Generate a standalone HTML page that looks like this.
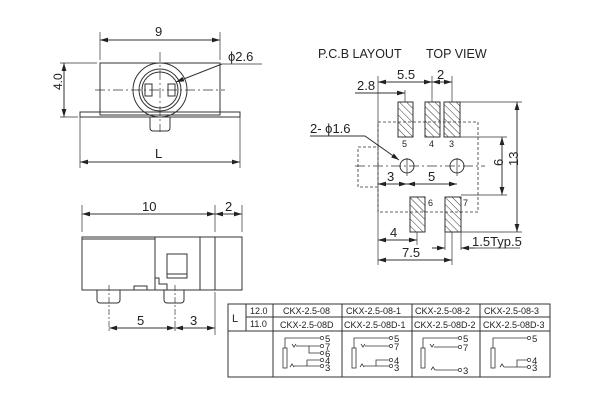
<!DOCTYPE html>
<html><head><style>body{margin:0;background:#fff}svg{display:block}text{font-family:"Liberation Sans",sans-serif;fill:#222}</style></head><body>
<svg width="600" height="400" viewBox="0 0 600 400" xmlns="http://www.w3.org/2000/svg">
<defs>
<marker id="a" viewBox="0 0 10 6" refX="10" refY="3" markerWidth="8" markerHeight="5" orient="auto-start-reverse"><path d="M0 0L10 3L0 6z" fill="#222"/></marker>
<pattern id="h" width="5" height="5" patternUnits="userSpaceOnUse" patternTransform="rotate(-45)"><line x1="0" y1="0" x2="0" y2="5" stroke="#333" stroke-width="1"/></pattern>
</defs>
<g stroke="#333" fill="none" stroke-width="1">
<rect x="100" y="63" width="120" height="52"/>
<rect x="80" y="112" width="160" height="5"/>
<path d="M150 117v11a3 3 0 0 0 3 3h14a3 3 0 0 0 3-3v-11"/>
<circle cx="160" cy="90" r="27"/><circle cx="160" cy="90" r="21"/><circle cx="160" cy="90" r="18"/>
<rect x="145" y="84" width="7" height="12"/><rect x="168" y="84" width="7" height="12"/>
<path d="M95 90H225M160 52V132" stroke-dasharray="10 3 2 3" stroke-width=".7"/>
<path d="M100 60V32M220 60V32M80 117V168M240 117V168M97 63H60M78 117H60" stroke-width=".7"/>
<path d="M100 40H220" marker-start="url(#a)" marker-end="url(#a)"/>
<path d="M64 63V117" marker-start="url(#a)" marker-end="url(#a)"/>
<path d="M80 162H240" marker-start="url(#a)" marker-end="url(#a)"/>
<path d="M222 64L176 82" marker-end="url(#a)"/><path d="M222 64H262" stroke-width=".7"/>
<rect x="82" y="237" width="160" height="53"/>
<path d="M82 239h73M155 237v53M200 237v53M215 237v53"/>
<rect x="167" y="254" width="20" height="24"/><path d="M167 274h20"/>
<path d="M155 278h4v6h8v6"/>
<rect x="134" y="286" width="13" height="4"/>
<path d="M97 290v10a3 3 0 0 0 3 3h17a3 3 0 0 0 3-3v-10M164 290v10a3 3 0 0 0 3 3h14a3 3 0 0 0 3-3v-10"/>
<path d="M109 285V332M175 285V332" stroke-dasharray="6 2 2 2" stroke-width=".7"/>
<path d="M82 232V205M215 232V205M242 232V205M215 292V335" stroke-width=".7"/>
<path d="M82 214H215" marker-start="url(#a)" marker-end="url(#a)"/>
<path d="M215 214H242" marker-start="url(#a)" marker-end="url(#a)"/>
<path d="M109 328H175" marker-start="url(#a)" marker-end="url(#a)"/>
<path d="M175 328H215" marker-start="url(#a)" marker-end="url(#a)"/>
<path d="M378 122H478V212H378V187H358V147H378Z" stroke-dasharray="3 2" stroke-width=".8"/>
<path d="M378 147V187" stroke-dasharray="3 2" stroke-width=".8"/>
<path d="M355 166H485" stroke-dasharray="10 3 2 3" stroke-width=".7"/>
<circle cx="407" cy="166" r="7"/><circle cx="457" cy="166" r="7"/>
<path d="M407 158V176M457 158V176" stroke-width=".7"/>
<g fill="url(#h)"><rect x="398" y="102" width="15" height="35"/><rect x="425" y="102" width="15" height="35"/><rect x="444" y="102" width="16" height="35"/><rect x="410" y="197" width="15" height="35"/><rect x="445" y="197" width="16" height="35"/></g>
<path d="M378 76V265M432 76V102M452 76V102M405 90V102M460 102H522M460 137H507M461 195H507M461 232H522M417 232V245M452 232V265M445 232V250M461 232V250" stroke-width=".7"/>
<path d="M378 82H432" marker-start="url(#a)" marker-end="url(#a)"/>
<path d="M432 82H452" marker-start="url(#a)" marker-end="url(#a)"/>
<path d="M355 93H405" marker-end="url(#a)"/>
<path d="M517 102V232" marker-start="url(#a)" marker-end="url(#a)"/>
<path d="M502 137V195" marker-start="url(#a)" marker-end="url(#a)"/>
<path d="M378 184H407" marker-start="url(#a)" marker-end="url(#a)"/>
<path d="M407 184H457" marker-start="url(#a)" marker-end="url(#a)"/>
<path d="M378 240H417" marker-start="url(#a)" marker-end="url(#a)"/>
<path d="M378 260H452" marker-start="url(#a)" marker-end="url(#a)"/>
<path d="M432 248H445" marker-end="url(#a)"/><path d="M475 248H461" marker-end="url(#a)"/><path d="M475 248H520" stroke-width=".7"/>
<path d="M310 136H365L399 160" marker-end="url(#a)"/>
<rect x="228" y="304" width="322" height="73"/>
<path d="M246 304V331M273 304V377M342 304V377M412 304V377M480 304V377M246 317H550M228 331H550"/>
</g>
<g font-size="13">
<text x="155" y="36">9</text><text x="228" y="61">ϕ2.6</text><text x="155" y="158">L</text>
<text x="55" y="97" transform="rotate(-90 55 90)" font-size="12">4.0</text>
<text x="142" y="211">10</text><text x="225" y="211">2</text><text x="137" y="325">5</text><text x="190" y="325">3</text>
<text x="318" y="58" font-size="12.5">P.C.B LAYOUT</text><text x="426" y="58" font-size="12.5">TOP VIEW</text>
<text x="397" y="79">5.5</text><text x="437" y="79">2</text><text x="357" y="90">2.8</text>
<text x="310" y="133">2- ϕ1.6</text>
<text x="387" y="181">3</text><text x="428" y="181">5</text>
<text x="390" y="237">4</text><text x="402" y="257">7.5</text>
<text x="472" y="246">1.5Typ.5</text>
<text x="497" y="172" transform="rotate(-90 497 166)">6</text>
<text x="512" y="172" transform="rotate(-90 512 166)">13</text>
</g>
<g font-size="9"><text x="402" y="147">5</text><text x="429" y="147">4</text><text x="449" y="147">3</text><text x="428" y="206">6</text><text x="463" y="206">7</text></g>
<g font-size="9"><text x="232" y="322" font-size="11">L</text><text x="250" y="314">12.0</text><text x="250" y="327">11.0</text>
<text x="283" y="314">CKX-2.5-08</text><text x="346" y="314">CKX-2.5-08-1</text><text x="415" y="314">CKX-2.5-08-2</text><text x="484" y="314">CKX-2.5-08-3</text>
<text x="280" y="328">CKX-2.5-08D</text><text x="344" y="328">CKX-2.5-08D-1</text><text x="414" y="328">CKX-2.5-08D-2</text><text x="483" y="328">CKX-2.5-08D-3</text></g>
<g stroke="#333" fill="none" stroke-width=".8">
<rect x="283" y="348" width="4" height="20"/><path d="M285 348V338H321M292 344l2 3l2-3M296 346H321M309 346v7h12M290 367l2-3l2 3M294 366H321M307 366v-6h14"/>
<rect x="352" y="348" width="4" height="20"/><path d="M354 348V338H390M361 344l2 3l2-3M365 346H390M360 367l2-3l2 3M364 366H390M376 366v-6h14"/>
<rect x="421" y="348" width="4" height="20"/><path d="M423 348V338H459M430 344l2 3l2-3M434 347H459M431 370l2-3l2 3M435 370H459"/>
<rect x="491" y="348" width="4" height="20"/><path d="M493 348V338H528M500 367l2-3l2 3M504 367H528M517 367v-7h11"/>
</g>
<g fill="#fff" stroke="#333" stroke-width=".7">
<circle cx="322" cy="338" r="1.6"/><circle cx="322" cy="346" r="1.6"/><circle cx="322" cy="353" r="1.6"/><circle cx="322" cy="360" r="1.6"/><circle cx="322" cy="366" r="1.6"/>
<circle cx="391" cy="338" r="1.6"/><circle cx="391" cy="346" r="1.6"/><circle cx="391" cy="360" r="1.6"/><circle cx="391" cy="366" r="1.6"/>
<circle cx="460" cy="338" r="1.6"/><circle cx="460" cy="347" r="1.6"/><circle cx="460" cy="370" r="1.6"/>
<circle cx="529" cy="338" r="1.6"/><circle cx="529" cy="360" r="1.6"/><circle cx="529" cy="367" r="1.6"/>
</g>
<g font-size="9.5"><text x="325" y="342">5</text><text x="325" y="350">7</text><text x="325" y="357">6</text><text x="325" y="364">4</text><text x="325" y="371">3</text>
<text x="394" y="342">5</text><text x="394" y="350">7</text><text x="394" y="364">4</text><text x="394" y="371">3</text>
<text x="463" y="342">5</text><text x="463" y="351">7</text><text x="463" y="374">3</text>
<text x="532" y="342">5</text><text x="532" y="364">4</text><text x="532" y="371">3</text></g>
</svg>
</body></html>
